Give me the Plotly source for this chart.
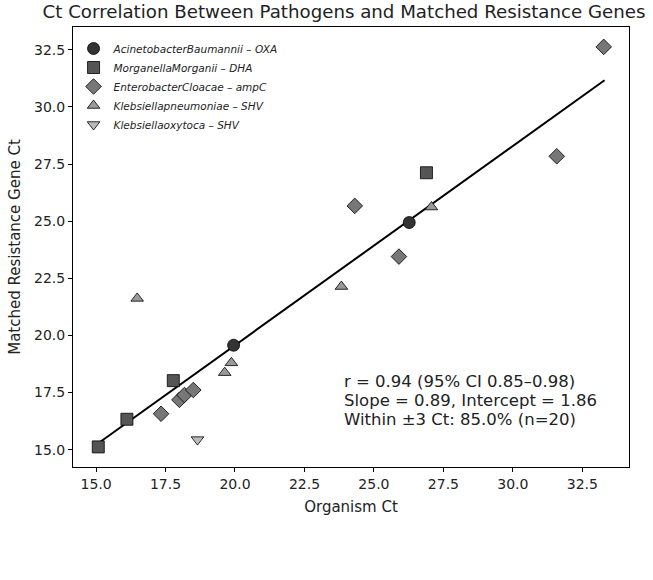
import plotly.graph_objects as go

# Data
oxa_x = [19.95, 26.27]
oxa_y = [19.57, 24.94]
dha_x = [15.08, 16.11, 17.78, 26.89]
dha_y = [15.12, 16.33, 18.02, 27.12]
ampc_x = [17.34, 18.00, 18.18, 18.50, 24.31, 25.90, 31.58, 33.27]
ampc_y = [16.57, 17.18, 17.39, 17.61, 25.67, 23.45, 27.84, 32.63]
kpn_x = [16.48, 19.63, 19.87, 23.83, 27.07]
kpn_y = [21.62, 18.37, 18.80, 22.14, 25.62]
kox_x = [18.65]
kox_y = [15.44]

# Fitted line as drawn in the picture (ends)
fit_x = [15.08, 33.30]
fit_y = [15.28, 31.17]

stats_lines = ["r = 0.94 (95% CI 0.85–0.98)",
               "Slope = 0.89, Intercept = 1.86",
               "Within ±3 Ct: 85.0% (n=20)"]

series = [
    ("AcinetobacterBaumannii – OXA", oxa_x, oxa_y, "circle", "#333333", 12),
    ("MorganellaMorganii – DHA", dha_x, dha_y, "square", "#555555", 12),
    ("EnterobacterCloacae – ampC", ampc_x, ampc_y, "diamond", "#777777", 12),
    ("Klebsiellapneumoniae – SHV", kpn_x, kpn_y, "triangle-up", "#999999", 11),
    ("Klebsiellaoxytoca – SHV", kox_x, kox_y, "triangle-down", "#bbbbbb", 11),
]

FONT = "DejaVu Sans"
TXT = "#222222"
fig = go.Figure()

fig.add_trace(go.Scatter(x=fit_x, y=fit_y, mode="lines",
                         line=dict(color="black", width=2), showlegend=False,
                         hoverinfo="skip"))

for name, xs, ys, sym, col, sz in series:
    fig.add_trace(go.Scatter(x=xs, y=ys, mode="markers", name="<i>" + name + "</i>",
                             marker=dict(symbol=sym, color=col, size=sz,
                                         line=dict(color="black", width=0.8))))

axis_common = dict(showline=True, linecolor="black", linewidth=1, mirror=True,
                   ticks="outside", ticklen=4, tickwidth=0.8, tickcolor="black",
                   showgrid=False, zeroline=False,
                   tickfont=dict(family=FONT, size=14, color=TXT))

annotations = []
for i, line in enumerate(stats_lines):
    annotations.append(dict(
        text=line, xref="paper", yref="paper",
        x=(342 - 73) / 556, y=(467 - 381 - 19 * i) / 440,
        xanchor="left", yanchor="middle", align="left", showarrow=False,
        font=dict(family=FONT, size=16.5, color=TXT)))

fig.update_layout(
    width=653, height=580,
    margin=dict(l=73, r=24, t=27, b=113),
    paper_bgcolor="white", plot_bgcolor="white",
    font=dict(family=FONT, color=TXT),
    title=dict(text="Ct Correlation Between Pathogens and Matched Resistance Genes",
               x=344 / 653, xanchor="center", xref="container",
               y=1 - 12 / 580, yanchor="middle", yref="container",
               font=dict(family=FONT, size=18.2, color=TXT)),
    xaxis=dict(range=[14.17, 34.18], dtick=2.5, tick0=15, tickformat=".1f",
               title=dict(text="Organism Ct", font=dict(family=FONT, size=15), standoff=10),
               **axis_common),
    yaxis=dict(range=[14.24, 33.5], dtick=2.5, tick0=15, tickformat=".1f",
               title=dict(text="Matched Resistance Gene Ct", font=dict(family=FONT, size=15), standoff=9),
               **axis_common),
    legend=dict(x=0.001, y=(440 - 7) / 440, xanchor="left", yanchor="top",
                bgcolor="rgba(255,255,255,0)", borderwidth=0,
                font=dict(family=FONT, size=10.5, color=TXT),
                itemsizing="trace"),
    annotations=annotations,
)

fig.write_html("out.html")
